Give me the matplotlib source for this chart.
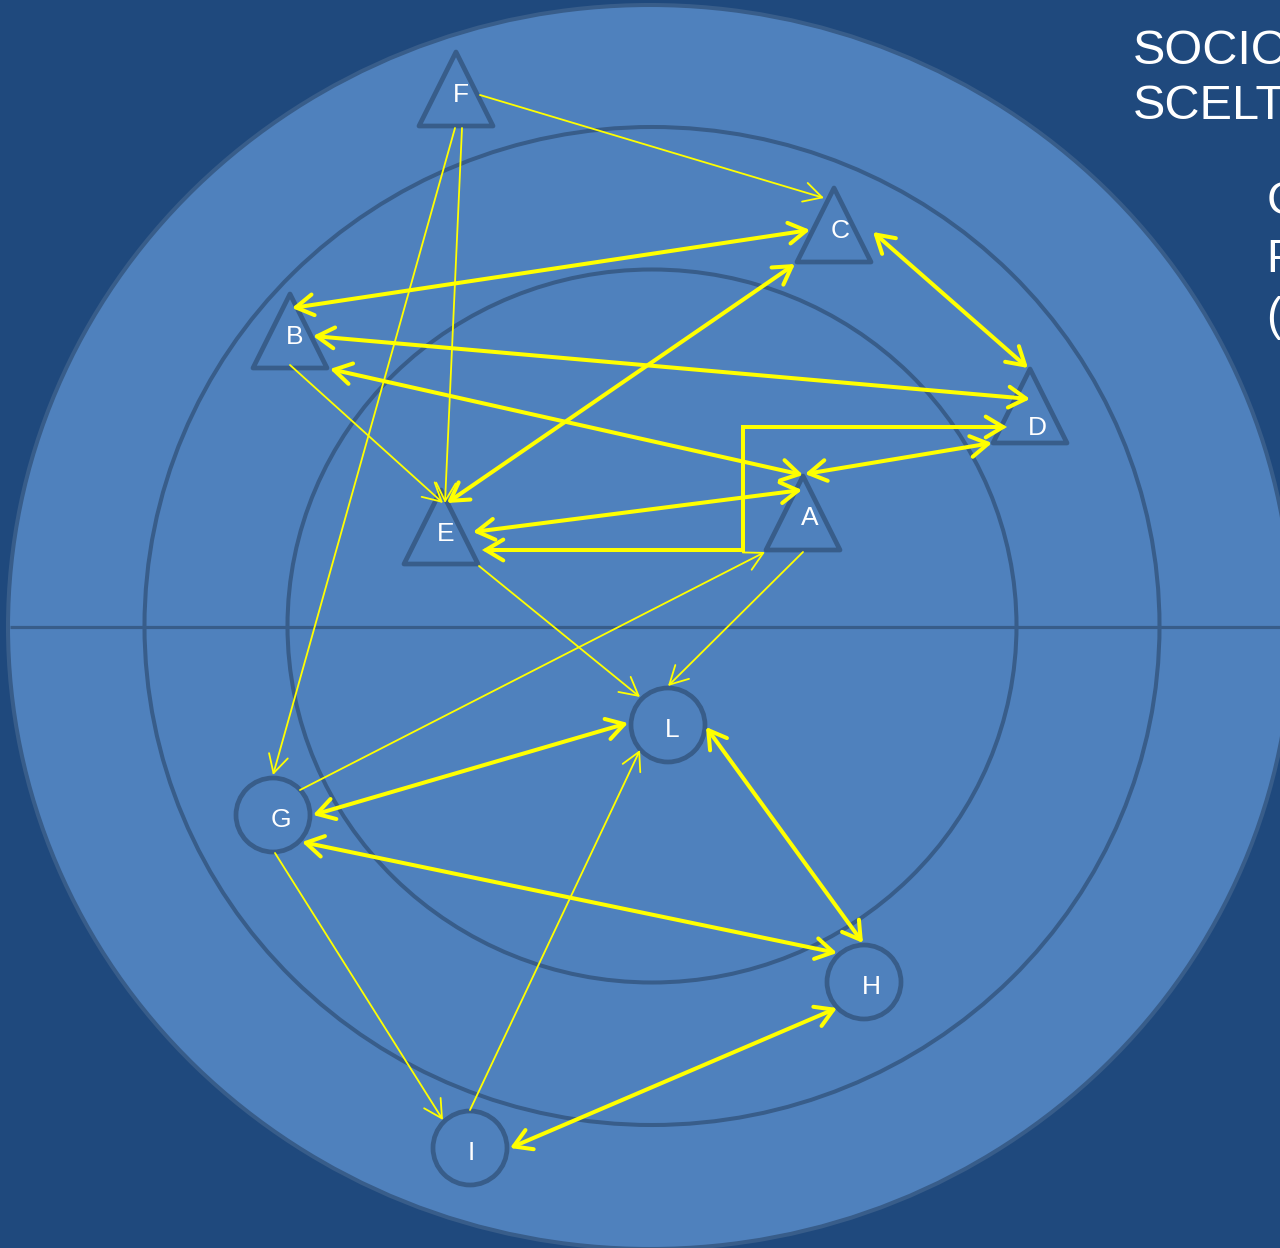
import matplotlib
matplotlib.use("Agg")
import matplotlib.pyplot as plt
from matplotlib.patches import Ellipse, Circle, Polygon, FancyArrowPatch, ArrowStyle
from matplotlib.path import Path

plt.rcParams['font.family'] = ['Liberation Sans', 'DejaVu Sans']

BG = '#1F497D'
FILL = '#4F81BD'
RING = '#385D8A'
YELLOW = '#FFFF00'

# sociogram members: triangles = boys, circles = girls
node_names = ['A', 'B', 'C', 'D', 'E', 'F', 'G', 'H', 'I', 'L']
node_x = [803, 290, 834, 1030, 441, 456, 273, 864, 470, 668]
node_y = [513, 331, 225, 406, 527, 89, 815, 982, 1148, 725]
node_shape = ['tri', 'tri', 'tri', 'tri', 'tri', 'tri', 'circle', 'circle', 'circle', 'circle']
label_dx = [7, 5, 6, 7, 5, 5, 8, 7, 1, 4]
label_dy = [5, 6, 6, 22, 7, 6, 5, 5, 5, 5]

# one-way choices (thin arrows): chooser -> chosen, with attach offsets on each shape
single_src = ['F', 'F', 'F', 'B', 'E', 'A', 'G', 'G', 'I']
single_src_off = [(24, 6), (6, 39), (-1, 39), (0, 34), (38, 39), (0, 39), (27, -25), (2, 38), (0, -38)]
single_dst = ['C', 'E', 'G', 'E', 'L', 'L', 'A', 'I', 'L']
single_dst_off = [(-10, -27), (4, -24), (0, -40), (2, -24), (-28, -28), (0, -39), (-38, 39), (-27, -28), (-28, 25)]

# mutual choices (thick double arrows)
mutual_a = ['B', 'B', 'B', 'A', 'E', 'C', 'E', 'G', 'L', 'G', 'I']
mutual_a_off = [(2, -23), (23, 5), (40, 38), (2, -39), (6, -24), (39, 7),
                (32, 5), (40, 0), (38, 2), (29, 27), (40, 0)]
mutual_b = ['C', 'D', 'A', 'D', 'C', 'D', 'A', 'L', 'H', 'H', 'H']
mutual_b_off = [(-24, 5), (0, -7), (0, -38), (-38, 37), (-39, 39), (-2, -38),
                (-1, -23), (-40, -2), (-1, -39), (-27, -29), (-27, 26)]

# E <-> D mutual choice drawn as an elbow connector
elbow_ends = ['E', 'D']
elbow_off = [(41, 23), (-23, 21)]
elbow_x = 743

title_lines = ['SOCIOGRAMMA', 'SCELTE']
note_lines = ['CRITERIO:', 'FARE I COMPITI', '(SCELTE POSITIVE)']

pos = {n: (x, y) for n, x, y in zip(node_names, node_x, node_y)}


def anchor(name, off):
    x, y = pos[name]
    return (x + off[0], y + off[1])


fig = plt.figure(figsize=(12.8, 12.48), dpi=100, facecolor=BG)
ax = fig.add_axes([0, 0, 1, 1])
ax.set_xlim(0, 1280)
ax.set_ylim(1248, 0)
ax.axis('off')
ax.set_facecolor(BG)

# concentric rings
ax.add_patch(Ellipse((650, 627), 1284, 1244, facecolor=FILL, edgecolor=RING, lw=2.9, zorder=1))
ax.add_patch(Ellipse((652, 626), 1015, 998, facecolor='none', edgecolor=RING, lw=2.9, zorder=2))
ax.add_patch(Ellipse((652, 626), 729, 713, facecolor='none', edgecolor=RING, lw=2.9, zorder=2))
ax.plot([10, 1280], [627, 627], color=RING, lw=2.3, zorder=2, solid_capstyle='butt')

# nodes
half = 37
for name, x, y, shp, ldx, ldy in zip(node_names, node_x, node_y, node_shape, label_dx, label_dy):
    if shp == 'tri':
        p = Polygon([(x, y - half), (x - half, y + half), (x + half, y + half)],
                    closed=True, facecolor=FILL, edgecolor=RING, lw=3.4,
                    joinstyle='round', zorder=3)
    else:
        p = Circle((x, y), half, facecolor=FILL, edgecolor=RING, lw=3.4, zorder=3)
    ax.add_patch(p)
    ax.text(x + ldx, y + ldy, name, color='white', fontsize=19, ha='center', va='center', zorder=6)

thin_style = ArrowStyle('->', head_length=13, head_width=7)
thick_style = ArrowStyle('<->', head_length=12.5, head_width=7.5)

for s, so, d, do in zip(single_src, single_src_off, single_dst, single_dst_off):
    ax.add_patch(FancyArrowPatch(anchor(s, so), anchor(d, do), arrowstyle=thin_style,
                                 color=YELLOW, lw=1.3, shrinkA=0, shrinkB=0,
                                 joinstyle='round', capstyle='round', zorder=4))

for a, ao, b, bo in zip(mutual_a, mutual_a_off, mutual_b, mutual_b_off):
    ax.add_patch(FancyArrowPatch(anchor(a, ao), anchor(b, bo), arrowstyle=thick_style,
                                 color=YELLOW, lw=2.9, shrinkA=0, shrinkB=0,
                                 joinstyle='round', capstyle='round', zorder=5))

p0 = anchor(elbow_ends[0], elbow_off[0])
p1 = anchor(elbow_ends[1], elbow_off[1])
elbow = Path([p0, (elbow_x, p0[1]), (elbow_x, p1[1]), p1])
ax.add_patch(FancyArrowPatch(path=elbow, arrowstyle=thick_style, color=YELLOW, lw=2.9,
                             joinstyle='miter', capstyle='round', zorder=5))

# heading text (runs off the right edge like the original slide)
for i, line in enumerate(title_lines):
    ax.text(1133, 64 + i * 55, line, color='white', fontsize=35, ha='left', va='baseline',
            zorder=7, clip_on=False)
for i, line in enumerate(note_lines):
    ax.text(1267, 214 + i * 58, line, color='white', fontsize=33, ha='left', va='baseline',
            zorder=7, clip_on=False)

fig.savefig('out.png', dpi=100, facecolor=BG)
